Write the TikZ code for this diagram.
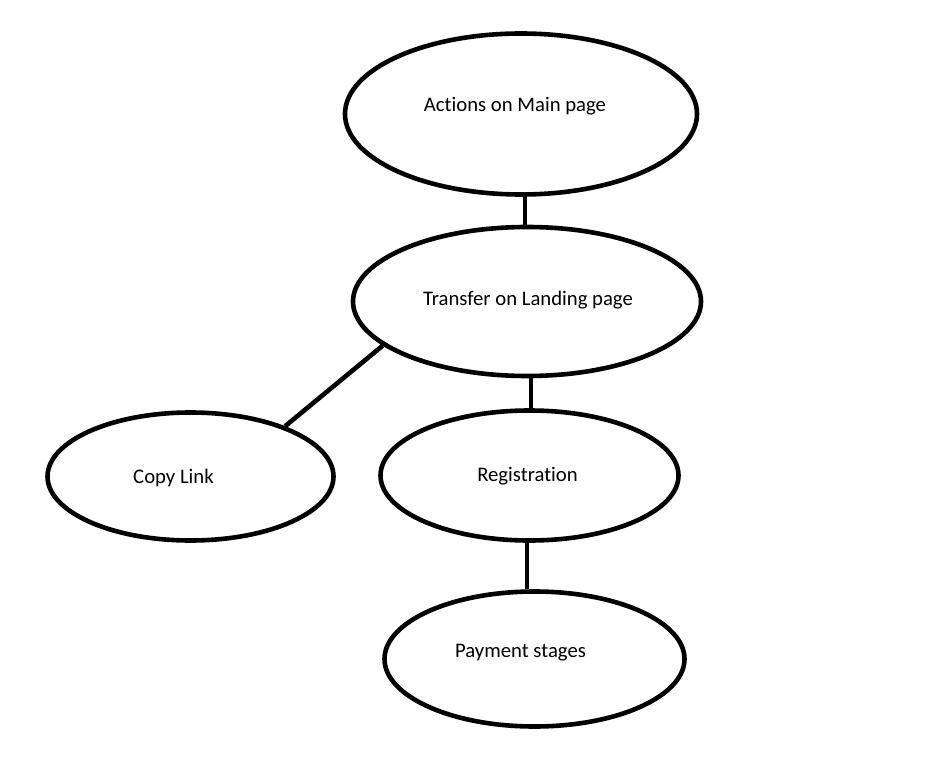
\documentclass[tikz,border=0pt]{standalone}
\usepackage{fontspec}
\setmainfont{Carlito}[Ligatures={NoCommon}]
\usetikzlibrary{shapes.geometric}
\begin{document}
\begin{tikzpicture}[x=1pt,y=-1pt,
  oval/.style={ellipse,draw=black,line width=4.6pt,inner sep=0pt},
  lbl/.style={font=\fontsize{20.7}{24}\selectfont,anchor=base,inner sep=0pt},
  link/.style={draw=black,line width=4.6pt}]
\useasboundingbox (0,0) rectangle (936,759);
\node[oval,minimum width=352,minimum height=161] (main) at (521,114) {};
\node[oval,minimum width=348,minimum height=149] (land) at (527,301.5) {};
\node[oval,minimum width=286,minimum height=128] (copy) at (190.5,476.5) {};
\node[oval,minimum width=298,minimum height=130] (reg) at (529.5,475.5) {};
\node[oval,minimum width=300,minimum height=135] (pay) at (534.5,659) {};
\node[lbl] (tmain) at (515,112) {Actions on Main page};
\node[lbl] (tland) at (528,305) {Transfer on Landing page};
\node[lbl] (tcopy) at (173.5,483) {Copy Link};
\node[lbl] (treg) at (527.5,481) {Registration};
\node[lbl] (tpay) at (520.5,657) {Payment stages};
\draw[link] (main.south -| 525,0) -- (land.north -| 525,0);
\draw[link] (land.south -| 531,0) -- (reg.north -| 531,0);
\draw[link] (reg.south -| 527,0) -- (pay.north -| 527,0);
\draw[link] (land.197) -- (copy.28);
\end{tikzpicture}
\end{document}
